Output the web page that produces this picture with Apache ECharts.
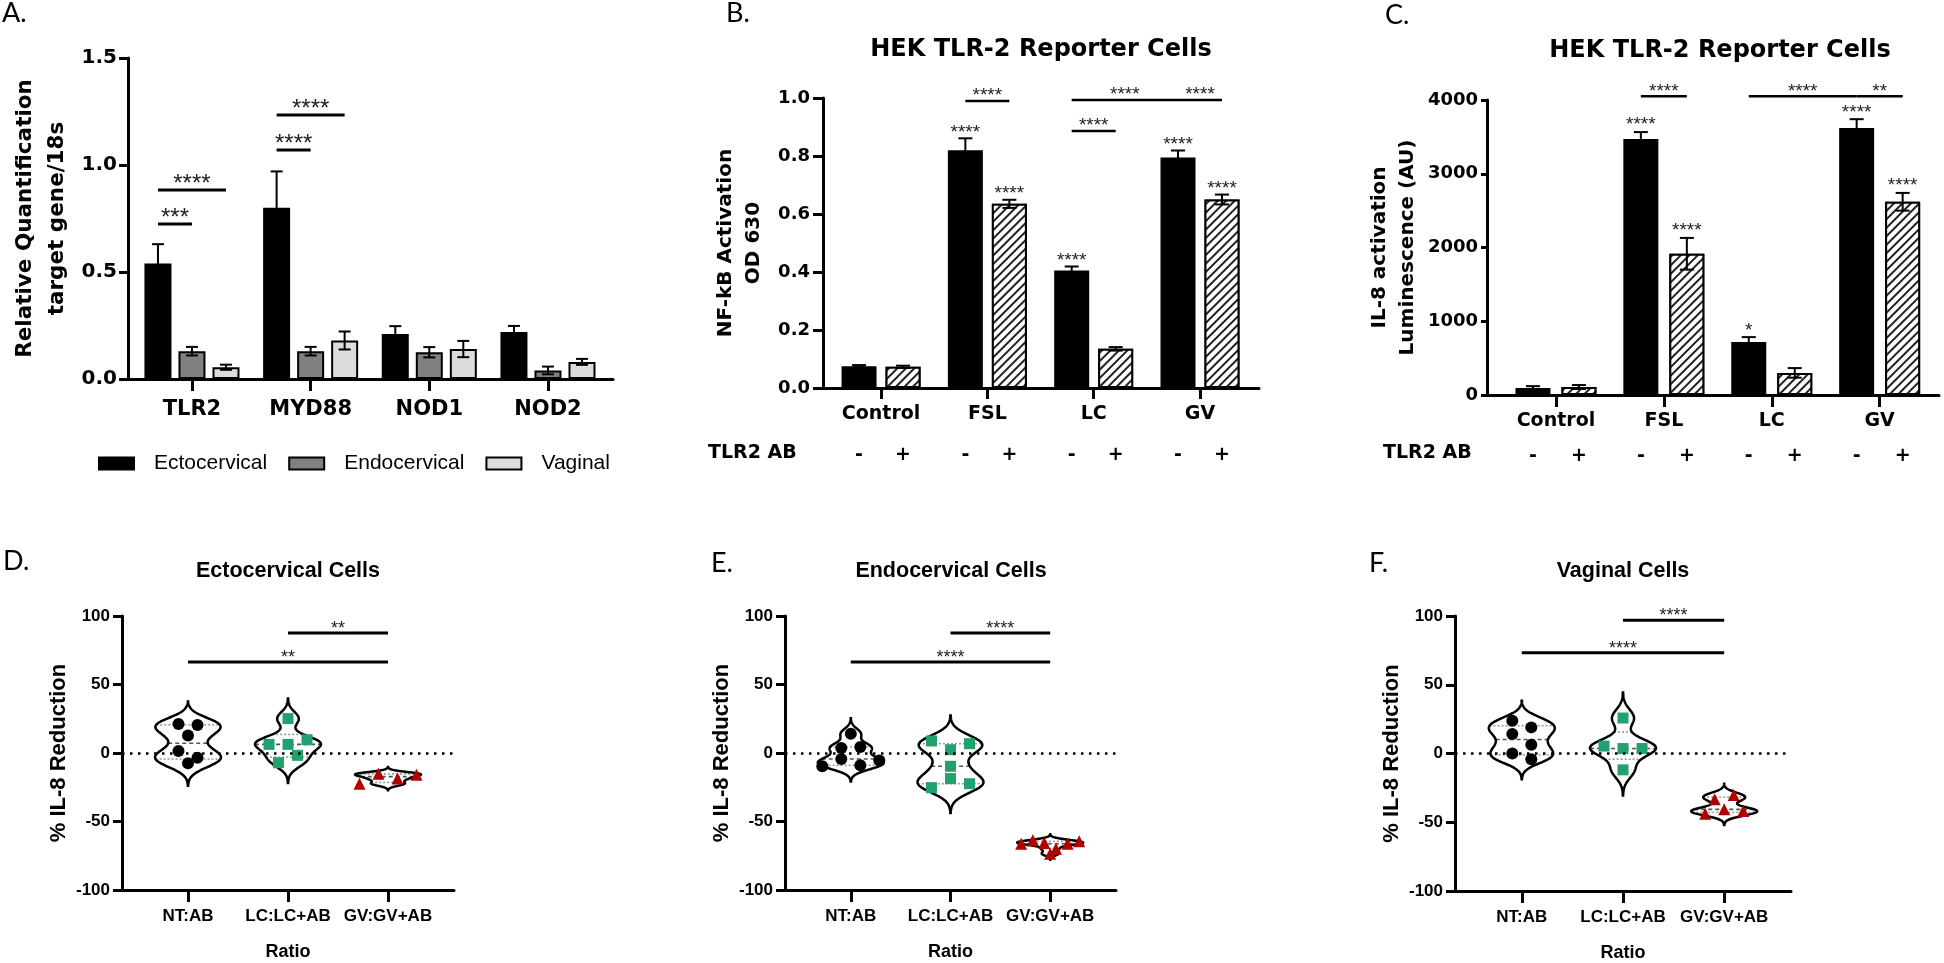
<!DOCTYPE html>
<html><head><meta charset="utf-8">
<script src="https://cdn.jsdelivr.net/npm/echarts@6/dist/echarts.min.js"></script>
<style>html,body{margin:0;padding:0;background:#fff}#c{width:1944px;height:963px}</style>
</head><body><div id="c"></div>
<script>
// ================= DATA =================
// Panel A
const aCategories = ['TLR2', 'MYD88', 'NOD1', 'NOD2'];
const aSeriesNames = ['Ectocervical', 'Endocervical', 'Vaginal'];
const aEcto = [0.54, 0.80, 0.21, 0.22];
const aEctoErr = [0.09, 0.17, 0.037, 0.028];
const aEndo = [0.13, 0.13, 0.125, 0.04];
const aEndoErr = [0.02, 0.02, 0.024, 0.018];
const aVag = [0.055, 0.18, 0.14, 0.08];
const aVagErr = [0.012, 0.042, 0.038, 0.014];
// [category, fromBar, category, toBar, y, label]
const aBrackets = [[0, 0, 0, 1, 0.724, '***'], [0, 0, 0, 2, 0.883, '****'], [1, 0, 1, 1, 1.07, '****'], [1, 0, 1, 2, 1.234, '****']];

// Panels B and C
const bcCategories = ['Control', 'FSL', 'LC', 'GV'];
const abSigns = ['-', '+'];
const bMinus = [0.075, 0.82, 0.405, 0.795];
const bMinusErr = [0.004, 0.041, 0.014, 0.024];
const bPlus = [0.073, 0.635, 0.135, 0.65];
const bPlusErr = [0.004, 0.014, 0.006, 0.017];
const bStarsMinus = ['', '****', '****', '****'];
const bStarsPlus = ['', '****', '', '****'];
const bBrackets = [[1, 0, 1, 1, 0.99, '****'], [2, 0, 2, 1, 0.886, '****'], [2, 0, 3, 0, 0.993, '****'], [3, 0, 3, 1, 0.993, '****']];

const cMinus = [95, 3470, 720, 3620];
const cMinusErr = [25, 95, 65, 120];
const cPlus = [108, 1915, 300, 2620];
const cPlusErr = [27, 215, 65, 120];
const cStarsMinus = ['', '****', '*', '****'];
const cStarsPlus = ['', '****', '', '****'];
const cBrackets = [[1, 0, 1, 1, 4050, '****'], [2, 0, 3, 0, 4050, '****'], [3, 0, 3, 1, 4050, '**']];

// Panels D, E, F  (% IL-8 reduction)
const ratioCategories = ['NT:AB', 'LC:LC+AB', 'GV:GV+AB'];
const dNT = [21.2, 20.4, 12.7, 1.5, -3.4, -7.5];
const dLC = [25.1, 6.3, 6.3, 9.7, -7.1, -1.7];
const dGV = [-22.4, -15.1, -18.7, -15.8];
const eNT = [14.1, 3.6, 4.4, -9.7, -4.4, -9.0, -5.4];
const eLC = [8.8, 2.4, 6.8, -9.7, -25.3, -18.7, -22.4];
const eGV = [-66.2, -63.7, -73.5, -65.7, -69.8, -66.2, -64.5];
const fNT = [23.8, 19.0, 14.1, 6.3, 0.0, -4.1];
const fLC = [25.8, 5.4, 3.6, 3.6, -11.9];
const fGV = [-33.3, -30.2, -43.8, -40.6, -41.8];
// [fromGroup, toGroup, y, label]
const dBrackets = [[1, 2, 87.6, '**'], [0, 2, 66.4, '**']];
const eBrackets = [[1, 2, 87.6, '****'], [0, 2, 66.4, '****']];
const fBrackets = [[1, 2, 97, '****'], [0, 2, 73.2, '****']];

// ================= HELPERS =================
const TOPF = 'DejaVu Sans';
const BOTF = 'Liberation Sans';
const AXC = '#000';

function xAxisDef(grid, cats, min, max, font, fs, margin, tickLen, extra) {
  const vals = cats.map((c, i) => i);
  return Object.assign({
    gridIndex: grid, type: 'value', min: min, max: max,
    axisLine: { show: true, onZero: false, lineStyle: { color: AXC, width: 3 } },
    axisTick: { show: true, length: tickLen, customValues: vals, lineStyle: { color: AXC, width: 3 } },
    axisLabel: { show: true, customValues: vals, formatter: v => cats[Math.round(v)], margin: margin,
      fontFamily: font, fontWeight: 'bold', fontSize: fs, color: '#000' },
    splitLine: { show: false }
  }, extra || {});
}
function yAxisDef(grid, min, max, interval, font, fs, margin, tickLen, fmt, name, nameFont, nameFs, nameLH, nameGap) {
  return {
    gridIndex: grid, type: 'value', min: min, max: max, interval: interval,
    axisLine: { show: true, onZero: false, lineStyle: { color: AXC, width: 3 } },
    axisTick: { show: true, length: tickLen, lineStyle: { color: AXC, width: 3 } },
    axisLabel: { margin: margin, fontFamily: font, fontWeight: 'bold', fontSize: fs, color: '#000', formatter: fmt },
    splitLine: { show: false },
    name: name, nameLocation: 'middle', nameRotate: 90, nameGap: nameGap,
    nameTextStyle: { fontFamily: nameFont, fontWeight: 'bold', fontSize: nameFs, lineHeight: nameLH, color: '#000' }
  };
}
function barOffset(s, n, step) { return (s - (n - 1) / 2) * step; }

function errorBarSeries(grid, means, errs, n, step, capW) {
  const data = [];
  means.forEach((arr, s) => arr.forEach((v, i) => data.push([i, v, errs[s][i], s])));
  return {
    type: 'custom', xAxisIndex: grid, yAxisIndex: grid, clip: false, silent: true, z: 5, data: data,
    renderItem: (p, api) => {
      const x = api.value(0), v = api.value(1), e = api.value(2), s = api.value(3);
      const top = api.coord([x, v + e]), bot = api.coord([x, v - e]);
      const cx = top[0] + barOffset(s, n, step);
      const st = { stroke: '#000', lineWidth: 2 };
      return { type: 'group', children: [
        { type: 'line', shape: { x1: cx, y1: top[1], x2: cx, y2: bot[1] }, style: st },
        { type: 'line', shape: { x1: cx - capW / 2, y1: top[1], x2: cx + capW / 2, y2: top[1] }, style: st },
        { type: 'line', shape: { x1: cx - capW / 2, y1: bot[1], x2: cx + capW / 2, y2: bot[1] }, style: st }
      ] };
    }
  };
}
function barStarSeries(grid, means, errs, labels, n, step, fs, above) {
  const data = [], texts = [];
  means.forEach((arr, s) => arr.forEach((v, i) => {
    if (labels[s][i]) { data.push([i, v + errs[s][i], s]); texts.push(labels[s][i]); }
  }));
  return {
    type: 'custom', xAxisIndex: grid, yAxisIndex: grid, clip: false, silent: true, z: 6, data: data,
    renderItem: (p, api) => {
      const c = api.coord([api.value(0), api.value(1)]);
      const cx = c[0] + barOffset(api.value(2), n, step);
      return { type: 'text', x: cx, y: c[1] - above + 0.22 * fs,
        style: { text: texts[p.dataIndex], fontSize: fs, fontFamily: BOTF, fill: '#222', align: 'center', verticalAlign: 'middle' } };
    }
  };
}
function bracketSeries(grid, brackets, n, step, fs, above, lw) {
  return {
    type: 'custom', xAxisIndex: grid, yAxisIndex: grid, clip: false, silent: true, z: 6,
    data: brackets.map(b => [b[0], b[1], b[2], b[3], b[4]]),
    renderItem: (p, api) => {
      const y = api.coord([0, api.value(4)])[1];
      const x1 = api.coord([api.value(0), 0])[0] + barOffset(api.value(1), n, step);
      const x2 = api.coord([api.value(2), 0])[0] + barOffset(api.value(3), n, step);
      return { type: 'group', children: [
        { type: 'line', shape: { x1: x1, y1: y, x2: x2, y2: y }, style: { stroke: '#000', lineWidth: lw } },
        { type: 'text', x: (x1 + x2) / 2, y: y - above + 0.22 * fs,
          style: { text: brackets[p.dataIndex][5], fontSize: fs, fontFamily: BOTF, fill: '#222', align: 'center', verticalAlign: 'middle' } }
      ] };
    }
  };
}
function signSeries(grid, ncat, n, step, yOff, fs) {
  const data = [];
  for (let i = 0; i < ncat; i++) for (let s = 0; s < n; s++) data.push([i, s]);
  return {
    type: 'custom', xAxisIndex: grid, yAxisIndex: grid, clip: false, silent: true, z: 6, data: data,
    renderItem: (p, api) => {
      const c = api.coord([api.value(0), 0]);
      const s = api.value(1);
      return { type: 'text', x: c[0] + barOffset(s, n, step), y: c[1] + yOff,
        style: { text: abSigns[s], fontSize: fs, fontFamily: TOPF, fontWeight: 'bold', fill: '#000', align: 'center', verticalAlign: 'middle' } };
    }
  };
}
const hatch = { symbol: 'rect', symbolSize: 1, symbolKeepAspect: false, color: '#222', backgroundColor: '#fff',
  dashArrayX: [1, 0], dashArrayY: [2, 3.5], rotation: -Math.PI / 4 };

// ---- violin helpers ----
function kde(vals) {
  const n = vals.length;
  const mean = vals.reduce((a, b) => a + b, 0) / n;
  const sd = Math.sqrt(vals.reduce((a, b) => a + (b - mean) * (b - mean), 0) / (n - 1));
  const h = 0.636 * sd * Math.pow(n, -0.2);
  const lo = Math.min.apply(null, vals) - 3 * h, hi = Math.max.apply(null, vals) + 3 * h;
  const dens = t => vals.reduce((a, v) => a + Math.exp(-0.5 * ((t - v) / h) * ((t - v) / h)), 0);
  const pts = [];
  let dmax = 0;
  for (let i = 0; i <= 160; i++) { const t = lo + (hi - lo) * i / 160; const d = dens(t); pts.push([t, d]); if (d > dmax) dmax = d; }
  return { pts: pts, dmax: dmax, dens: dens };
}
function quantile(vals, p) {
  const s = vals.slice().sort((a, b) => a - b), n = s.length;
  let r = p * (n + 1) - 1;
  if (r <= 0) return s[0];
  if (r >= n - 1) return s[n - 1];
  const lo = Math.floor(r);
  return s[lo] + (s[lo + 1] - s[lo]) * (r - lo);
}
function violinSeries(grid, groups, halfW) {
  return {
    type: 'custom', xAxisIndex: grid, yAxisIndex: grid, clip: false, silent: true, z: 2,
    data: groups.map((g, i) => [i]),
    renderItem: (p, api) => {
      const gi = p.dataIndex, vals = groups[gi];
      const k = kde(vals);
      const cx = api.coord([gi, 0])[0];
      const right = [], left = [];
      k.pts.forEach(pt => {
        const y = api.coord([gi, pt[0]])[1];
        const w = pt[1] / k.dmax * halfW;
        right.push([cx + w, y]); left.push([cx - w, y]);
      });
      const children = [];
      [[0.25, '#9a9a9a', [2, 2]], [0.5, '#555', [4, 3]], [0.75, '#9a9a9a', [2, 2]]].forEach(q => {
        const qv = quantile(vals, q[0]);
        const y = api.coord([gi, qv])[1];
        const w = k.dens(qv) / k.dmax * halfW;
        children.push({ type: 'line', shape: { x1: cx - w, y1: y, x2: cx + w, y2: y },
          style: { stroke: q[1], lineWidth: 1.6, lineDash: q[2] } });
      });
      children.push({ type: 'polygon', shape: { points: right.concat(left.reverse()) },
        style: { fill: 'none', stroke: '#000', lineWidth: 2.5 } });
      return { type: 'group', children: children };
    }
  };
}
function swarmOffsets(vals, pxPerUnit, rowPx, spacing, maxHalf) {
  const idx = vals.map((v, i) => i).sort((a, b) => vals[b] - vals[a]);
  const offs = vals.map(() => 0);
  let i = 0;
  while (i < idx.length) {
    const start = vals[idx[i]];
    const row = [idx[i]];
    let j = i + 1;
    while (j < idx.length && (start - vals[idx[j]]) * pxPerUnit < rowPx) { row.push(idx[j]); j++; }
    row.sort((a, b) => a - b);
    const n = row.length;
    const sp = n > 1 ? Math.min(spacing, 2 * maxHalf / (n - 1)) : 0;
    row.forEach((kk, m) => { offs[kk] = (m - (n - 1) / 2) * sp; });
    i = j;
  }
  return offs;
}
const pointStyles = [
  { symbol: 'circle', color: '#000', size: 12 },
  { symbol: 'rect', color: '#22A06E', size: 11 },
  { symbol: 'triangle', color: '#B00000', size: 12 }
];
function pointSeries(grid, vals, g, pxPerUnit, withZero) {
  const st = pointStyles[g];
  const offs = swarmOffsets(vals, pxPerUnit, 11, 19, 29);
  const s = {
    type: 'scatter', xAxisIndex: grid, yAxisIndex: grid, symbol: st.symbol, symbolSize: st.size, z: 4, silent: true,
    itemStyle: { color: st.color, opacity: 1 },
    data: vals.map((v, k) => ({ value: [g, v], symbolOffset: [offs[k], 0] }))
  };
  if (withZero) {
    s.markLine = { silent: true, symbol: ['none', 'none'], label: { show: false }, animation: false,
      lineStyle: { color: '#000', width: 2.5, type: [2.5, 5.5] }, data: [{ yAxis: 0 }] };
  }
  return s;
}

// ================= OPTION =================
const series = [];
// Panel A bars
const aColors = ['#000000', '#808080', '#dcdcdc'];
[aEcto, aEndo, aVag].forEach((arr, s) => {
  series.push({ type: 'bar', name: aSeriesNames[s], xAxisIndex: 0, yAxisIndex: 0, barWidth: 27, barGap: '26%',
    itemStyle: { color: aColors[s], borderColor: '#000', borderWidth: 2 }, silent: true,
    data: arr.map((v, i) => [i, v]) });
});
series.push(errorBarSeries(0, [aEcto, aEndo, aVag], [aEctoErr, aEndoErr, aVagErr], 3, 34, 12));
series.push(bracketSeries(0, aBrackets, 3, 34, 24, 11, 3));

// Panel B bars
series.push({ type: 'bar', name: 'TLR2 AB -', xAxisIndex: 1, yAxisIndex: 1, barWidth: 35, barGap: '25.7%',
  itemStyle: { color: '#000', borderColor: '#000', borderWidth: 2 }, silent: true, data: bMinus.map((v, i) => [i, v]) });
series.push({ type: 'bar', name: 'TLR2 AB +', xAxisIndex: 1, yAxisIndex: 1, barWidth: 35, barGap: '25.7%',
  itemStyle: { color: '#fff', borderColor: '#000', borderWidth: 2, decal: hatch }, silent: true, data: bPlus.map((v, i) => [i, v]) });
series.push(errorBarSeries(1, [bMinus, bPlus], [bMinusErr, bPlusErr], 2, 44, 14));
series.push(barStarSeries(1, [bMinus, bPlus], [bMinusErr, bPlusErr], [bStarsMinus, bStarsPlus], 2, 44, 19, 10));
series.push(bracketSeries(1, bBrackets, 2, 44, 19, 9, 2.5));
series.push(signSeries(1, bcCategories.length, 2, 44, 67, 19));

// Panel C bars
series.push({ type: 'bar', name: 'TLR2 AB - (C)', xAxisIndex: 2, yAxisIndex: 2, barWidth: 35, barGap: '31.4%',
  itemStyle: { color: '#000', borderColor: '#000', borderWidth: 2 }, silent: true, data: cMinus.map((v, i) => [i, v]) });
series.push({ type: 'bar', name: 'TLR2 AB + (C)', xAxisIndex: 2, yAxisIndex: 2, barWidth: 35, barGap: '31.4%',
  itemStyle: { color: '#fff', borderColor: '#000', borderWidth: 2, decal: hatch }, silent: true, data: cPlus.map((v, i) => [i, v]) });
series.push(errorBarSeries(2, [cMinus, cPlus], [cMinusErr, cPlusErr], 2, 46, 14));
series.push(barStarSeries(2, [cMinus, cPlus], [cMinusErr, cPlusErr], [cStarsMinus, cStarsPlus], 2, 46, 19, 11));
series.push(bracketSeries(2, cBrackets, 2, 46, 19, 9, 2.5));
series.push(signSeries(2, bcCategories.length, 2, 46, 61, 19));

// Panels D, E, F
[[3, [dNT, dLC, dGV], dBrackets, 274], [4, [eNT, eLC, eGV], eBrackets, 274], [5, [fNT, fLC, fGV], fBrackets, 275]].forEach(cfg => {
  const grid = cfg[0], groups = cfg[1], br = cfg[2], ppu = cfg[3] / 200;
  series.push(violinSeries(grid, groups, 33));
  groups.forEach((vals, g) => series.push(pointSeries(grid, vals, g, ppu, g === 0)));
  series.push(bracketSeries(grid, br.map(b => [b[0], 0, b[1], 0, b[2], b[3]]), 1, 0, 18, 8, 3));
});

const option = {
  backgroundColor: '#fff',
  animation: false,
  grid: [
    { left: 128, top: 58, width: 485, height: 321 },
    { left: 823, top: 98, width: 436, height: 290 },
    { left: 1487, top: 100, width: 452, height: 295 },
    { left: 122, top: 616, width: 332, height: 274 },
    { left: 785, top: 616, width: 331, height: 274 },
    { left: 1455, top: 616, width: 336, height: 275 }
  ],
  xAxis: [
    xAxisDef(0, aCategories, -0.539, 3.548, TOPF, 21, 20, 12),
    xAxisDef(1, bcCategories, -0.546, 3.555, TOPF, 19, 17, 11),
    xAxisDef(2, bcCategories, -0.639, 3.55, TOPF, 19, 17, 12),
    xAxisDef(3, ratioCategories, -0.66, 2.66, BOTF, 17, 18, 12, { name: 'Ratio', nameLocation: 'middle', nameGap: 53, nameTextStyle: { fontFamily: BOTF, fontWeight: 'bold', fontSize: 18, color: '#000' } }),
    xAxisDef(4, ratioCategories, -0.66, 2.66, BOTF, 17, 18, 12, { name: 'Ratio', nameLocation: 'middle', nameGap: 53, nameTextStyle: { fontFamily: BOTF, fontWeight: 'bold', fontSize: 18, color: '#000' } }),
    xAxisDef(5, ratioCategories, -0.66, 2.66, BOTF, 17, 18, 12, { name: 'Ratio', nameLocation: 'middle', nameGap: 53, nameTextStyle: { fontFamily: BOTF, fontWeight: 'bold', fontSize: 18, color: '#000' } })
  ],
  yAxis: [
    yAxisDef(0, 0, 1.5, 0.5, TOPF, 20, 11, 9, v => v.toFixed(1), 'Relative Quantification\ntarget gene/18s', TOPF, 21.5, 32, 55),
    yAxisDef(1, 0, 1, 0.2, TOPF, 18, 13, 10, v => v.toFixed(1), 'NF-kB Activation\nOD 630', TOPF, 20, 28, 55),
    yAxisDef(2, 0, 4000, 1000, TOPF, 18, 9, 6, v => String(v), 'IL-8 activation\nLuminescence (AU)', TOPF, 20, 28, 65),
    yAxisDef(3, -100, 100, 50, BOTF, 17, 12, 9, v => String(v), '% IL-8 Reduction', BOTF, 22, 26, 43),
    yAxisDef(4, -100, 100, 50, BOTF, 17, 12, 9, v => String(v), '% IL-8 Reduction', BOTF, 22, 26, 45),
    yAxisDef(5, -100, 100, 50, BOTF, 17, 12, 9, v => String(v), '% IL-8 Reduction', BOTF, 22, 26, 44)
  ],
  legend: {
    data: aSeriesNames, left: 93, top: 448, itemWidth: 35, itemHeight: 12, itemGap: 21, icon: 'rect', selectedMode: false,
    textStyle: { fontFamily: BOTF, fontSize: 21, color: '#000', padding: [0, 0, 0, 15] }
  },
  title: [
    { text: 'HEK TLR-2 Reporter Cells', left: 1041, top: 38, textAlign: 'center', padding: 0, textStyle: { fontFamily: TOPF, fontWeight: 'bold', fontSize: 24, color: '#000' } },
    { text: 'HEK TLR-2 Reporter Cells', left: 1720, top: 39, textAlign: 'center', padding: 0, textStyle: { fontFamily: TOPF, fontWeight: 'bold', fontSize: 24, color: '#000' } },
    { text: 'Ectocervical Cells', left: 288, top: 560, textAlign: 'center', padding: 0, textStyle: { fontFamily: BOTF, fontWeight: 'bold', fontSize: 21.5, color: '#000' } },
    { text: 'Endocervical Cells', left: 951, top: 560, textAlign: 'center', padding: 0, textStyle: { fontFamily: BOTF, fontWeight: 'bold', fontSize: 21.5, color: '#000' } },
    { text: 'Vaginal Cells', left: 1623, top: 560, textAlign: 'center', padding: 0, textStyle: { fontFamily: BOTF, fontWeight: 'bold', fontSize: 21.5, color: '#000' } }
  ],
  graphic: [
    { type: 'text', left: 2, top: 0, style: { text: 'A.', fontSize: 27, fontFamily: 'Lato', fill: '#000' } },
    { type: 'text', left: 726, top: 0, style: { text: 'B.', fontSize: 27, fontFamily: 'Lato', fill: '#000' } },
    { type: 'text', left: 1385, top: 2, style: { text: 'C.', fontSize: 27, fontFamily: 'Lato', fill: '#000' } },
    { type: 'text', left: 3, top: 548, style: { text: 'D.', fontSize: 27, fontFamily: 'Lato', fill: '#000' } },
    { type: 'text', left: 711, top: 550, style: { text: 'E.', fontSize: 27, fontFamily: 'Lato', fill: '#000' } },
    { type: 'text', left: 1369, top: 550, style: { text: 'F.', fontSize: 27, fontFamily: 'Lato', fill: '#000' } },
    { type: 'text', left: 708, top: 444, style: { text: 'TLR2 AB', fontSize: 19, fontFamily: TOPF, fontWeight: 'bold', fill: '#000' } },
    { type: 'text', left: 1383, top: 444, style: { text: 'TLR2 AB', fontSize: 19, fontFamily: TOPF, fontWeight: 'bold', fill: '#000' } }
  ],
  series: series
};
const chart = echarts.init(document.getElementById('c'), null, { renderer: 'canvas', width: 1944, height: 963 });
chart.setOption(option);
</script>
</body></html>
